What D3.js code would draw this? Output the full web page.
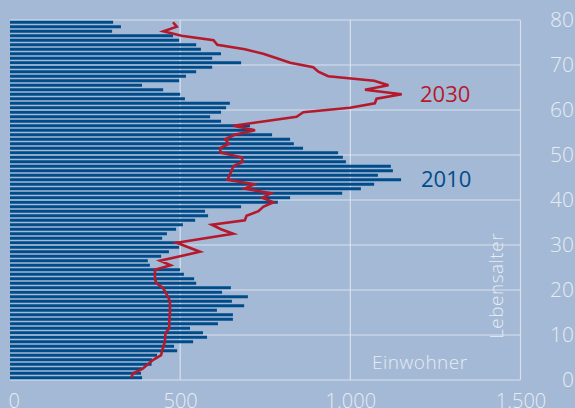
<!DOCTYPE html>
<html>
<head>
<meta charset="utf-8">
<script src="https://cdn.jsdelivr.net/npm/d3@7"></script>
<style>
  body { margin: 0; background: #a4b9d5; }
  svg { display: block; }
  .tick text { fill: #e6ecf4; font-family: "Open Sans", sans-serif; font-weight: 300; }
</style>
</head>
<body>
<div class="chart"></div>
<script>
// ages 0..79, values (Einwohner per age)
var ages = d3.range(0, 80);
var pop2010 = [388, 385, 388, 416, 417, 432, 491, 482, 538, 579,
  567, 529, 611, 655, 655, 608, 688, 652, 699, 623,
  649, 547, 541, 511, 500, 411, 405, 444, 467, 497,
  500, 447, 461, 488, 508, 544, 582, 573, 679, 787,
  823, 976, 1031, 1070, 1149, 1081, 1125, 1119, 987, 978,
  964, 861, 834, 823, 770, 715, 705, 620, 588, 620,
  635, 646, 514, 500, 450, 388, 497, 517, 547, 594,
  679, 594, 620, 561, 547, 497, 479, 300, 326, 303];
var pop2030 = [356, 362, 390, 405, 421, 444, 447, 451, 455, 456,
  457, 468, 468, 468, 470, 470, 470, 470, 464, 457,
  449, 430, 426, 426, 426, 472, 441, 500, 558, 524,
  490, 573, 656, 620, 593, 690, 695, 730, 744, 774,
  742, 766, 690, 717, 639, 645, 651, 656, 684, 681,
  619, 617, 643, 632, 660, 720, 656, 749, 842, 862,
  999, 1072, 1077, 1151, 1043, 1112, 1070, 935, 906, 891,
  823, 784, 744, 690, 609, 598, 504, 451, 490, 479];
var xTicks = [0, 500, 1000, 1500];
var xTickLabels = ["0", "500", "1.000", "1.500"];
var yTicks = [0, 10, 20, 30, 40, 50, 60, 70, 80];

var svgWidth = 575;
var svgHeight = 408;

var svg = d3.select(".chart")
  .append("svg")
  .attr("width", svgWidth)
  .attr("height", svgHeight);

svg.append("rect")
  .attr("width", svgWidth)
  .attr("height", svgHeight)
  .attr("fill", "#a4b9d5");

var x = d3.scaleLinear().domain([0, 1500]).range([10, 520.5]);
var y = d3.scaleLinear().domain([0, 80]).range([380, 20]);

var gridColor = "#d8e1ed";

// horizontal grid
svg.append("g").selectAll("line")
  .data(yTicks)
  .enter()
  .append("line")
  .attr("x1", x(0))
  .attr("x2", x(1500))
  .attr("y1", d => y(d))
  .attr("y2", d => y(d))
  .attr("stroke", gridColor)
  .attr("stroke-width", 1.2);

// vertical grid (no line at 0)
svg.append("g").selectAll("line")
  .data(xTicks.slice(1))
  .enter()
  .append("line")
  .attr("x1", d => x(d))
  .attr("x2", d => x(d))
  .attr("y1", y(0))
  .attr("y2", y(80))
  .attr("stroke", gridColor)
  .attr("stroke-width", 1.2);

// bars 2010
var bandH = y(0) - y(1);
var barH = 3;
svg.append("g").selectAll("rect")
  .data(ages)
  .enter()
  .append("rect")
  .attr("x", x(0))
  .attr("y", d => y(d + 1) + (bandH - barH) / 2)
  .attr("width", d => x(pop2010[d]) - x(0))
  .attr("height", barH)
  .attr("fill", "#004c8a");

// line 2030
var line = d3.line()
  .x(d => x(pop2030[d]))
  .y(d => y(d + 0.5));

svg.append("path")
  .datum(ages)
  .attr("d", line)
  .attr("fill", "none")
  .attr("stroke", "#b5192b")
  .attr("stroke-width", 2.6)
  .attr("stroke-linejoin", "miter");

// bottom axis labels
var bottomAxis = d3.axisBottom(x)
  .tickValues(xTicks)
  .tickFormat((d, i) => xTickLabels[i])
  .tickSize(0)
  .tickPadding(14);

var xAxis = svg.append("g")
  .attr("transform", `translate(0, ${y(0)})`)
  .call(bottomAxis);
xAxis.select(".domain").remove();
xAxis.selectAll("text")
  .attr("font-size", 20)
  .style("font-size", "20px");
xAxis.selectAll("text")
  .filter(d => d === 0)
  .attr("text-anchor", "start")
  .attr("x", -2);

// right axis labels
var rightAxis = d3.axisRight(y)
  .tickValues(yTicks)
  .tickSize(0)
  .tickPadding(0);

var yAxis = svg.append("g")
  .attr("transform", "translate(574, 0)")
  .call(rightAxis);
yAxis.select(".domain").remove();
yAxis.selectAll("text")
  .attr("text-anchor", "end")
  .style("font-size", "21px");

// labels
svg.append("text")
  .attr("x", 420)
  .attr("y", 101.5)
  .attr("fill", "#b5192b")
  .style("font-family", "'Open Sans', sans-serif")
  .style("font-size", "22px")
  .text("2030");

svg.append("text")
  .attr("x", 421)
  .attr("y", 186.5)
  .attr("fill", "#004c8a")
  .style("font-family", "'Open Sans', sans-serif")
  .style("font-size", "22px")
  .text("2010");

svg.append("text")
  .attr("x", 372)
  .attr("y", 369)
  .attr("fill", "#e6ecf4")
  .style("font-family", "'Open Sans', sans-serif")
  .style("font-weight", 300)
  .style("font-size", "19px")
  .style("letter-spacing", "0.5px")
  .text("Einwohner");

svg.append("text")
  .attr("transform", "translate(503, 339) rotate(-90)")
  .attr("fill", "#e6ecf4")
  .style("font-family", "'Open Sans', sans-serif")
  .style("font-weight", 300)
  .style("font-size", "19px")
  .style("letter-spacing", "0.5px")
  .text("Lebensalter");
</script>
</body>
</html>
